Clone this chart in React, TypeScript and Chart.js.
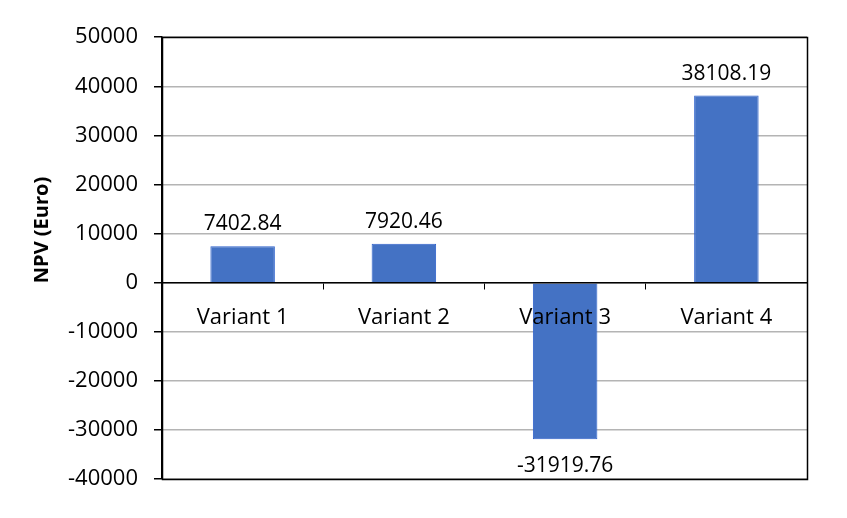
import React, { useEffect, useRef } from "react";
import { Chart, registerables } from "chart.js";

Chart.register(...registerables);

const categories = ["Variant 1", "Variant 2", "Variant 3", "Variant 4"];
const npvValues = [7402.84, 7920.46, -31919.76, 38108.19];
const yTickMin = -40000;
const yTickMax = 50000;
const yTickStep = 10000;
const yTitle = "NPV (Euro)";

const FONT = "'Open Sans', sans-serif";

const framePlugin = {
  id: "frameAndLabels",
  afterDatasetsDraw(chart: any) {
    const { ctx } = chart;
    const meta = chart.getDatasetMeta(0);
    ctx.save();
    ctx.fillStyle = "#000";
    ctx.font = `21px ${FONT}`;
    ctx.textAlign = "center";
    ctx.textBaseline = "alphabetic";
    meta.data.forEach((bar: any, i: number) => {
      const v = npvValues[i];
      const txt = v.toFixed(2);
      if (v >= 0) ctx.fillText(txt, bar.x, bar.y - 16);
      else ctx.fillText(txt, bar.x, bar.y + 33);
    });
    ctx.restore();
  },
  afterDraw(chart: any) {
    const { ctx, chartArea } = chart;
    ctx.save();
    ctx.strokeStyle = "#000";
    ctx.lineWidth = 1.5;
    ctx.strokeRect(
      Math.round(chartArea.left) + 0.5,
      Math.round(chartArea.top) + 0.5,
      Math.round(chartArea.right - chartArea.left),
      Math.round(chartArea.bottom - chartArea.top)
    );
    ctx.translate(34, 222);
    ctx.rotate(-Math.PI / 2);
    ctx.font = `bold 20px ${FONT}`;
    ctx.fillStyle = "#000";
    ctx.textAlign = "center";
    ctx.textBaseline = "middle";
    ctx.fillText(yTitle, 0, 0);
    ctx.restore();
  },
};

export default function App() {
  const ref = useRef<HTMLCanvasElement>(null);
  useEffect(() => {
    if (!ref.current) return;
    const chart = new Chart(ref.current, {
      type: "bar",
      data: {
        labels: categories,
        datasets: [
          {
            data: npvValues,
            backgroundColor: "#4472C4",
            borderColor: "#2F62CC",
            borderWidth: 1,
            barPercentage: 0.4,
            categoryPercentage: 1,
          },
        ],
      },
      options: {
        animation: false,
        responsive: false,
        maintainAspectRatio: false,
        layout: { padding: { top: 28, right: 32, bottom: 31, left: 0 } },
        plugins: { legend: { display: false }, tooltip: { enabled: false } },
        scales: {
          x: {
            position: { y: 0 } as any,
            offset: true,
            grid: {
              offset: true,
              drawOnChartArea: false,
              drawTicks: true,
              tickLength: 6,
              color: "#000",
              z: 1,
            },
            border: { color: "#000", width: 1.5, z: 1 } as any,
            ticks: {
              color: "#000",
              font: { family: FONT, size: 22 },
              padding: 16,
              maxRotation: 0,
              z: 1,
            },
          },
          y: {
            min: yTickMin,
            max: yTickMax,
            afterFit: (scale: any) => {
              scale.width = 154;
            },
            grid: {
              color: "#B4B4B4",
              tickColor: "#000",
              tickLength: 8,
              lineWidth: 1.5,
            },
            border: { color: "#000", width: 1.5 },
            ticks: {
              stepSize: yTickStep,
              color: "#000",
              font: { family: FONT, size: 22 },
              padding: 16,
              callback: (v: any) => String(v),
            },
          },
        },
      },
      plugins: [framePlugin],
    });
    return () => chart.destroy();
  }, []);
  return (
    <div style={{ width: 831, height: 502 }}>
      <canvas ref={ref} width={831} height={502} style={{ width: 831, height: 502 }} />
    </div>
  );
}
